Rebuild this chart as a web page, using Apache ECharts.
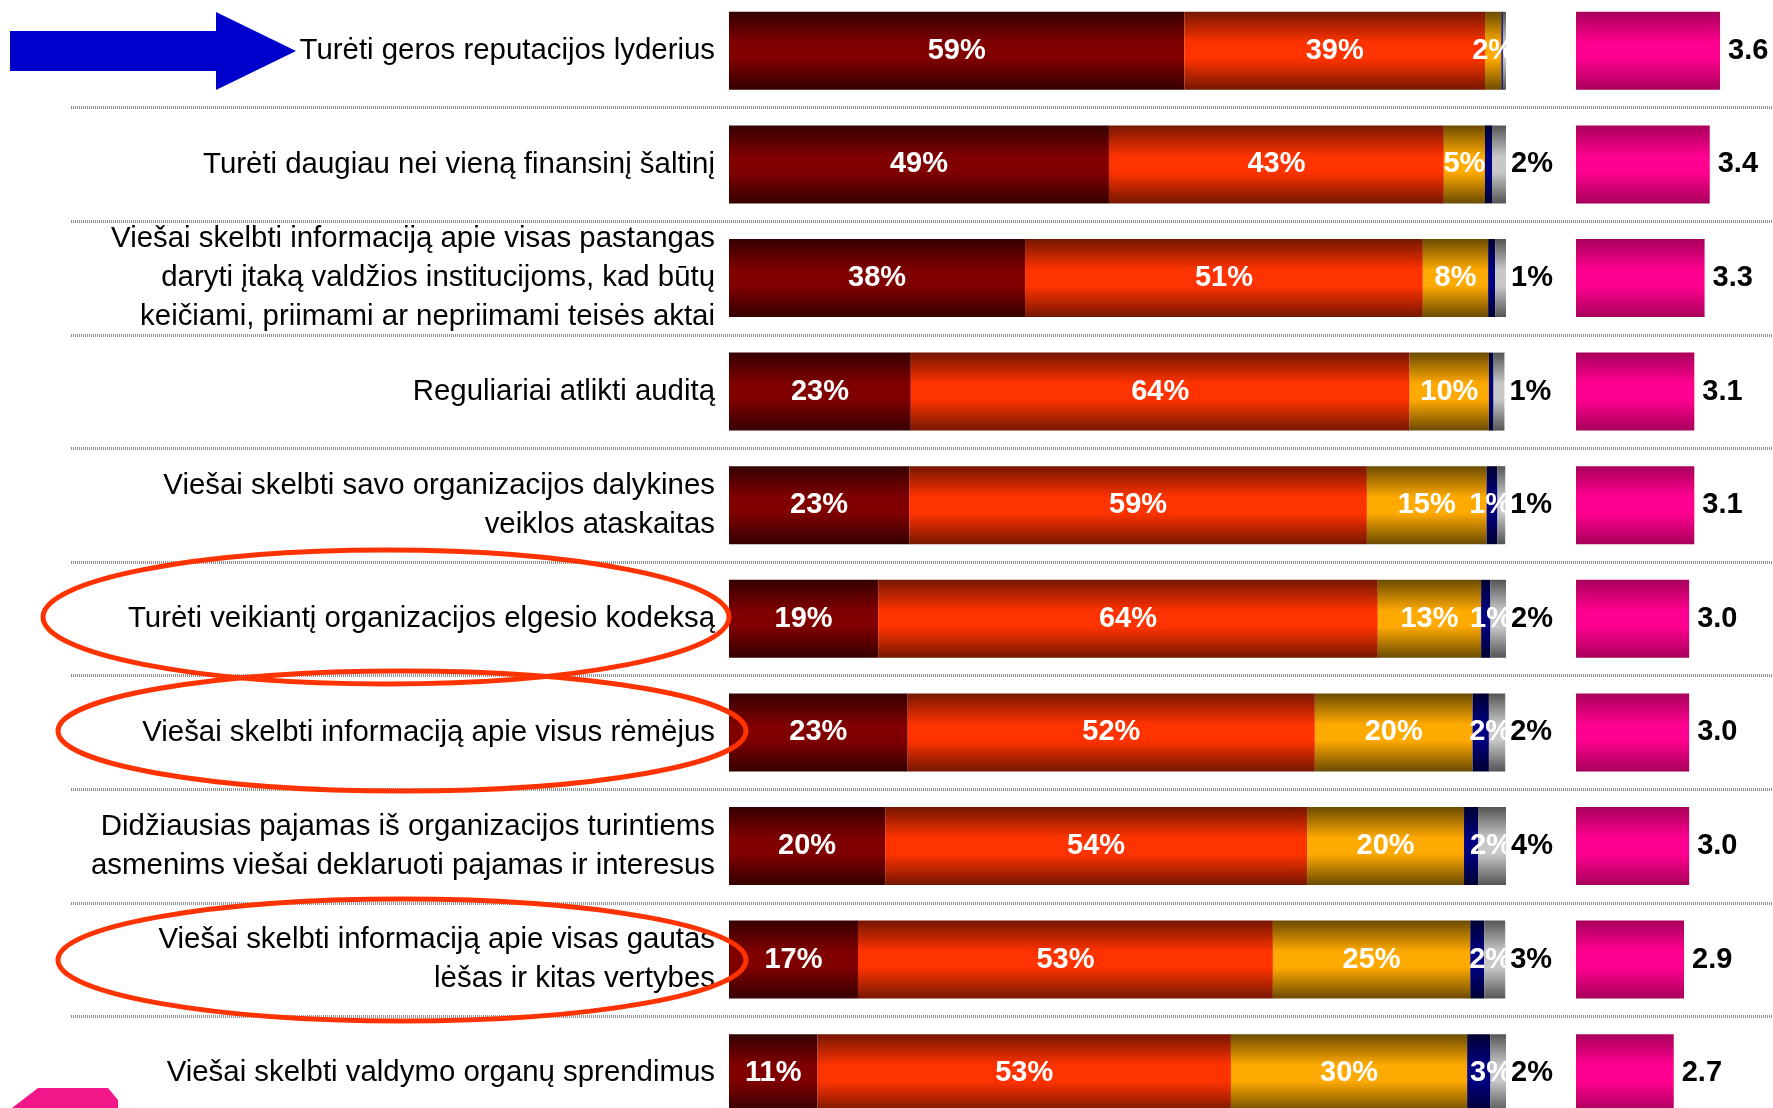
<!DOCTYPE html>
<html>
<head>
<meta charset="utf-8">
<script src="https://cdn.jsdelivr.net/npm/echarts@6.0.0/dist/echarts.min.js"></script>
<style>
  html, body { margin: 0; padding: 0; background: #fff; }
  #main { width: 1773px; height: 1108px; }
</style>
</head>
<body>
<div id="main"></div>
<script>
// kategorijos (iš viršaus į apačią)
var categories = [
    'Turėti geros reputacijos lyderius',
    'Turėti daugiau nei vieną finansinį šaltinį',
    'Viešai skelbti informaciją apie visas pastangas\ndaryti įtaką valdžios institucijoms, kad būtų\nkeičiami, priimami ar nepriimami teisės aktai',
    'Reguliariai atlikti auditą',
    'Viešai skelbti savo organizacijos dalykines\nveiklos ataskaitas',
    'Turėti veikiantį organizacijos elgesio kodeksą',
    'Viešai skelbti informaciją apie visus rėmėjus',
    'Didžiausias pajamas iš organizacijos turintiems\nasmenims viešai deklaruoti pajamas ir interesus',
    'Viešai skelbti informaciją apie visas gautas\nlėšas ir kitas vertybes',
    'Viešai skelbti valdymo organų sprendimus'
];

// procentai (%), nuskaityti nuo paveikslo
var veryImportant = [58.6, 48.9, 38.1, 23.4, 23.2, 19.2, 23.0, 20.1, 16.6, 11.4];
var important     = [38.7, 43.1, 51.2, 64.2, 58.9, 64.3, 52.4, 54.3, 53.4, 53.2];
var lessImportant = [2.1, 5.3, 8.4, 10.2, 15.4, 13.3, 20.3, 20.2, 25.4, 30.4];
var notImportant  = [0.2, 0.9, 0.9, 0.6, 1.4, 1.2, 2.1, 1.8, 1.8, 3.0];
var dontKnow      = [0.4, 1.8, 1.4, 1.4, 1.0, 2.1, 2.1, 3.6, 2.7, 2.1];

// vidutinis įvertinimas
var avgScore = [3.6, 3.4, 3.3, 3.1, 3.1, 3.0, 3.0, 3.0, 2.9, 2.7];

var FONT = '"Liberation Sans", Arial, sans-serif';

function grad(edge, mid) {
    return new echarts.graphic.LinearGradient(0, 0, 0, 1, [
        { offset: 0, color: edge },
        { offset: 0.4, color: mid },
        { offset: 0.6, color: mid },
        { offset: 1, color: edge }
    ]);
}

function pct(p) {
    return p.value >= 1 ? Math.round(p.value) + '%' : '';
}

var insideLabel = {
    show: true,
    position: 'inside',
    color: '#fff',
    fontFamily: FONT,
    fontWeight: 'bold',
    fontSize: 29,
    formatter: pct
};

var myChart = echarts.init(document.getElementById('main'));

var option = {
    animation: false,
    textStyle: { fontFamily: FONT },
    grid: [
        // tik skiriamosios linijos
        { left: 71, right: 0, top: -6, height: 1136, outerBoundsMode: 'none' },
        // pagrindinės juostos
        { left: 729, width: 777, top: -6, height: 1136, outerBoundsMode: 'none' },
        // vidurkis
        { left: 1576, width: 164.6, top: -6, height: 1136, outerBoundsMode: 'none' }
    ],
    xAxis: [
        { gridIndex: 0, type: 'value', show: false, min: 0, max: 1 },
        { gridIndex: 1, type: 'value', show: false, min: 0, max: 100 },
        { gridIndex: 2, type: 'value', show: false, min: 0.8, max: 4 }
    ],
    yAxis: [
        {
            gridIndex: 0, type: 'category', data: categories, inverse: true,
            axisLine: { show: false }, axisTick: { show: false }, axisLabel: { show: false },
            splitLine: { show: true, interval: 0, lineStyle: { color: '#8f8f8f', width: 3, type: [1, 1] } }
        },
        {
            gridIndex: 1, type: 'category', data: categories, inverse: true,
            axisLine: { show: false }, axisTick: { show: false },
            axisLabel: {
                interval: 0,
                margin: 14,
                color: '#000',
                fontFamily: FONT,
                fontSize: 29.4,
                lineHeight: 39,
                align: 'right',
                padding: [0, 0, 6, 0]
            }
        },
        {
            gridIndex: 2, type: 'category', data: categories, inverse: true, show: false
        }
    ],
    series: [
        {
            name: 'Labai svarbu', type: 'bar', stack: 'viso', xAxisIndex: 1, yAxisIndex: 1,
            barWidth: 78, data: veryImportant,
            itemStyle: { color: grad('#350000', '#800000') },
            label: insideLabel
        },
        {
            name: 'Svarbu', type: 'bar', stack: 'viso', xAxisIndex: 1, yAxisIndex: 1,
            barWidth: 78, data: important,
            itemStyle: { color: grad('#761600', '#ff3300') },
            label: insideLabel
        },
        {
            name: 'Mažiau svarbu', type: 'bar', stack: 'viso', xAxisIndex: 1, yAxisIndex: 1,
            barWidth: 78, data: lessImportant,
            itemStyle: { color: grad('#6c4b00', '#ffaa00') },
            label: insideLabel
        },
        {
            name: 'Nesvarbu', type: 'bar', stack: 'viso', xAxisIndex: 1, yAxisIndex: 1,
            barWidth: 78, data: notImportant,
            itemStyle: { color: grad('#000033', '#000080') }
        },
        {
            name: 'Nežino', type: 'bar', stack: 'viso', xAxisIndex: 1, yAxisIndex: 1,
            barWidth: 78, data: dontKnow,
            itemStyle: { color: grad('#555555', '#c8c8c8') },
            label: {
                show: true,
                position: 'right',
                distance: 5,
                offset: [-41, 0],
                fontFamily: FONT,
                formatter: function (p) {
                    var n = notImportant[p.dataIndex];
                    var w = n >= 1 ? Math.round(n) + '%' : '';
                    var b = p.value >= 1 ? Math.round(p.value) + '%' : '';
                    return '{w|' + w + '}{b|' + b + '}';
                },
                rich: {
                    w: { color: '#fff', fontWeight: 'bold', fontSize: 29, width: 41, fontFamily: FONT },
                    b: { color: '#000', fontWeight: 'bold', fontSize: 29, fontFamily: FONT }
                }
            }
        },
        {
            name: 'Vidurkis', type: 'bar', xAxisIndex: 2, yAxisIndex: 2,
            barWidth: 78, data: avgScore,
            itemStyle: { color: grad('#a8005a', '#ff0090') },
            label: {
                show: true,
                position: 'right',
                distance: 8,
                color: '#000',
                fontFamily: FONT,
                fontWeight: 'bold',
                fontSize: 29,
                formatter: function (p) { return p.value.toFixed(1); }
            }
        }
    ],
    graphic: [
        {
            type: 'polygon', z: 100,
            shape: { points: [[10, 31], [216, 31], [216, 12], [296, 51], [216, 90], [216, 71], [10, 71]] },
            style: { fill: '#0000cc' }
        },
        {
            type: 'ellipse', z: 100,
            shape: { cx: 386, cy: 617, rx: 343, ry: 67 },
            style: { fill: 'none', stroke: '#ff3300', lineWidth: 5 }
        },
        {
            type: 'ellipse', z: 100,
            shape: { cx: 402, cy: 731, rx: 344, ry: 60 },
            style: { fill: 'none', stroke: '#ff3300', lineWidth: 5 }
        },
        {
            type: 'ellipse', z: 100,
            shape: { cx: 402, cy: 960, rx: 344, ry: 61 },
            style: { fill: 'none', stroke: '#ff3300', lineWidth: 5 }
        },
        {
            type: 'polygon', z: 100,
            shape: { points: [[12, 1108], [38, 1088], [108, 1088], [118, 1100], [118, 1108]] },
            style: { fill: '#f2168a' }
        }
    ]
};

myChart.setOption(option);
</script>
</body>
</html>
